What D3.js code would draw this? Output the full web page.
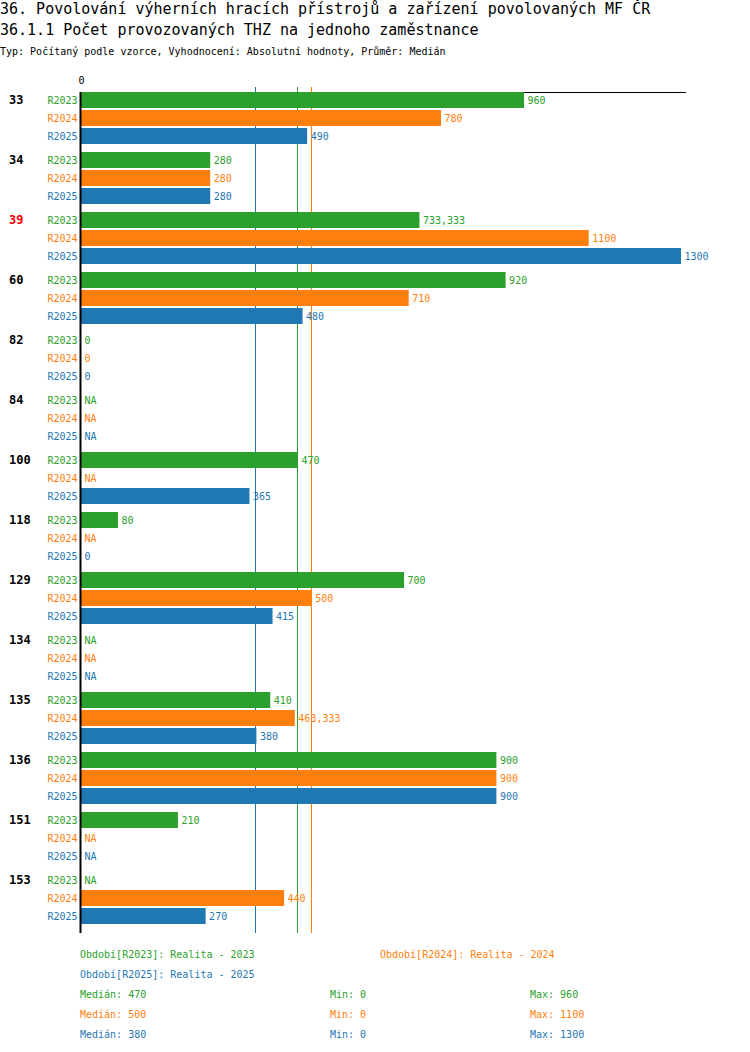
<!DOCTYPE html>
<html>
<head>
<meta charset="utf-8">
<script src="https://cdnjs.cloudflare.com/ajax/libs/d3/7.8.5/d3.min.js"></script>
<style>
  body { margin: 0; background: #fff; }
  text { font-family: "DejaVu Sans Mono", monospace; }
</style>
</head>
<body>
<svg id="chart" width="750" height="1052"></svg>
<script>
// data
const groups = ["33", "34", "39", "60", "82", "84", "100", "118", "129", "134", "135", "136", "151", "153"];
const highlighted = ["39"];
const series = ["R2023", "R2024", "R2025"];
const seriesNames = ["Realita - 2023", "Realita - 2024", "Realita - 2025"];
const colors = ["#2ca02c", "#ff7f0e", "#1f77b4"];

// null = NA
const r2023 = [960, 280, 733.333, 920, 0, null, 470, 80, 700, null, 410, 900, 210, null];
const r2024 = [780, 280, 1100, 710, 0, null, null, null, 500, null, 463.333, 900, null, 440];
const r2025 = [490, 280, 1300, 480, 0, null, 365, 0, 415, null, 380, 900, null, 270];
const values = [r2023, r2024, r2025];

const titleText = "36. Povolování výherních hracích přístrojů a zařízení povolovaných MF ČR";
const subtitleText = "36.1.1 Počet provozovaných THZ na jednoho zaměstnance";
const typeText = "Typ: Počítaný podle vzorce, Vyhodnocení: Absolutní hodnoty, Průměr: Medián";

const svg = d3.select("#chart");

let fmt = v => v == null ? "NA" : String(v).replace(".", ",");

svg.append("text").attr("x", 0).attr("y", 14).attr("font-size", 15).text(titleText);
svg.append("text").attr("x", 0).attr("y", 35).attr("font-size", 15).text(subtitleText);
svg.append("text").attr("x", 0).attr("y", 54.5).attr("font-size", 10).text(typeText);

let maxVal = d3.max(values, s => d3.max(s));
let x = d3.scaleLinear().domain([0, maxVal]).range([81, 681]);

let y = d3.scaleBand().domain(groups).range([92, 92 + 60 * groups.length]);
let ys = d3.scaleBand().domain(series).range([0, 52]).paddingInner(1 / 9);

let plotTop = 92, plotBottom = 933;

// median / min / max per series
let medians = values.map(s => d3.median(s.filter(v => v != null)));
let mins = values.map(s => d3.min(s.filter(v => v != null)));
let maxs = values.map(s => d3.max(s.filter(v => v != null)));

// median lines, drawn as 1px wide filled rects
svg.append("g").attr("class", "medians").selectAll("rect")
    .data(medians)
    .join("rect")
    .attr("x", d => Math.round(x(d)) - 1)
    .attr("y", 87)
    .attr("width", 1)
    .attr("height", plotBottom - 87)
    .attr("fill", (d, i) => colors[i]);

// top axis
let axis = svg.append("g")
    .attr("transform", `translate(0,${plotTop})`)
    .call(d3.axisTop(x).tickValues([0]).tickSize(0).tickPadding(8).tickFormat(d3.format("d")));
axis.select(".domain").remove();
axis.selectAll("text").attr("font-family", "DejaVu Sans Mono").attr("font-size", 10).attr("fill", "#000");
svg.append("rect")
    .attr("x", x(0)).attr("y", plotTop)
    .attr("width", x.range()[1] + 5 - x(0)).attr("height", 1)
    .attr("fill", "#000");

// rows
let rows = [];
groups.forEach((g, gi) => {
    series.forEach((s, si) => {
        rows.push({group: g, series: s, si: si, value: values[si][gi]});
    });
});

let gRows = svg.append("g");

gRows.selectAll("rect")
    .data(rows.filter(d => d.value != null && d.value > 0))
    .join("rect")
    .attr("x", x(0))
    .attr("y", d => y(d.group) + ys(d.series))
    .attr("width", d => x(d.value) - x(0))
    .attr("height", ys.bandwidth())
    .attr("fill", d => colors[d.si]);

gRows.selectAll("text.val")
    .data(rows)
    .join("text")
    .attr("class", "val")
    .attr("x", d => x(d.value == null ? 0 : d.value) + 3.5)
    .attr("y", d => y(d.group) + ys(d.series) + ys.bandwidth() / 2)
    .attr("dy", "0.35em")
    .attr("font-size", 10)
    .attr("fill", d => colors[d.si])
    .text(d => fmt(d.value));

gRows.selectAll("text.ser")
    .data(rows)
    .join("text")
    .attr("class", "ser")
    .attr("x", 77.5)
    .attr("y", d => y(d.group) + ys(d.series) + ys.bandwidth() / 2)
    .attr("dy", "0.35em")
    .attr("text-anchor", "end")
    .attr("font-size", 10)
    .attr("fill", d => colors[d.si])
    .text(d => d.series);

gRows.selectAll("text.grp")
    .data(groups)
    .join("text")
    .attr("class", "grp")
    .attr("x", 9)
    .attr("y", d => y(d) + ys(series[0]) + ys.bandwidth() / 2)
    .attr("dy", "0.35em")
    .attr("font-size", 12)
    .attr("font-weight", "bold")
    .attr("fill", d => highlighted.includes(d) ? "#ff0000" : "#000")
    .text(d => d);

// vertical axis line
svg.append("rect")
    .attr("x", 79.5).attr("y", plotTop)
    .attr("width", 2).attr("height", plotBottom - plotTop)
    .attr("fill", "#000");

// legend
let legendPos = [[80, 954], [380, 954], [80, 974]];
svg.append("g").selectAll("text")
    .data(series)
    .join("text")
    .attr("x", (d, i) => legendPos[i][0])
    .attr("y", (d, i) => legendPos[i][1])
    .attr("dy", "0.35em")
    .attr("font-size", 10)
    .attr("fill", (d, i) => colors[i])
    .text((d, i) => `Období[${d}]: ${seriesNames[i]}`);

let stats = svg.append("g");
series.forEach((s, i) => {
    let yy = 994 + 20 * i;
    [["Medián: ", medians[i], 80], ["Min: ", mins[i], 330], ["Max: ", maxs[i], 530]].forEach(st => {
        stats.append("text")
            .attr("x", st[2]).attr("y", yy).attr("dy", "0.35em")
            .attr("font-size", 10)
            .attr("fill", colors[i])
            .text(st[0] + fmt(st[1]));
    });
});
</script>
</body>
</html>
